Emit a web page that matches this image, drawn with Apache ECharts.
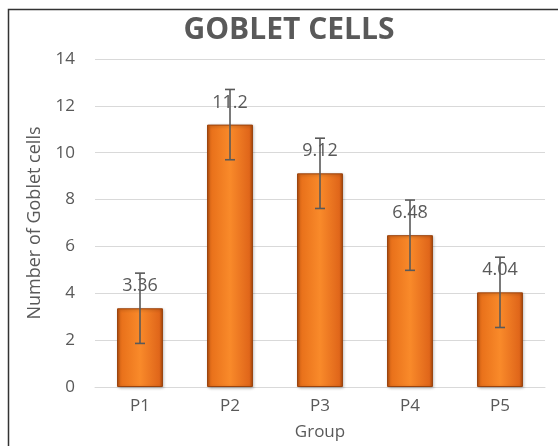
<!DOCTYPE html>
<html><head><meta charset="utf-8">
<script src="https://cdn.jsdelivr.net/npm/echarts@6/dist/echarts.min.js"></script>
<style>html,body{margin:0;padding:0;background:#fff}#c{width:558px;height:446px}</style>
</head><body><div id="c"></div>
<script>
const categories = ['P1','P2','P3','P4','P5'];
const values = [3.36, 11.2, 9.12, 6.48, 4.04];
const errors = [1.5, 1.5, 1.5, 1.5, 1.5];
const yTicks = [0, 2, 4, 6, 8, 10, 12, 14];

const chart = echarts.init(document.getElementById('c'));
const font = "'Open Sans', 'Liberation Sans', sans-serif";
const gray = '#595959';
const barColor = new echarts.graphic.LinearGradient(0, 0, 1, 0, [
  {offset: 0, color: '#b9500f'},
  {offset: 0.08, color: '#e8701a'},
  {offset: 0.5, color: '#f98a2a'},
  {offset: 0.92, color: '#e0661a'},
  {offset: 1, color: '#a8480c'}
]);
chart.setOption({
  animation: false,
  title: {text: 'GOBLET CELLS', left: 284, top: 10, textAlign: 'center',
    textStyle: {fontFamily: font, fontWeight: 'bold', fontSize: 30, color: gray}},
  graphic: [{type: 'rect', shape: {x: 8.5, y: 9.5, width: 600, height: 500},
    style: {fill: 'none', stroke: '#333', lineWidth: 1.5}, silent: true}],
  grid: {left: 95, right: 13, top: 59, bottom: 59, containLabel: false},
  xAxis: {type: 'category', data: categories, name: 'Group', nameLocation: 'middle', nameGap: 37,
    nameTextStyle: {fontFamily: font, fontSize: 17, color: gray},
    axisLine: {show: true, lineStyle: {color: '#d9d9d9'}}, axisTick: {show: false},
    axisLabel: {fontFamily: font, fontSize: 17, color: gray, margin: 11}},
  yAxis: {type: 'value', min: yTicks[0], max: yTicks[yTicks.length-1], interval: 2,
    name: 'Number of Goblet cells', nameLocation: 'middle', nameGap: 51, nameRotate: 90,
    nameTextStyle: {fontFamily: font, fontSize: 18, color: gray},
    axisLine: {show: false}, axisTick: {show: false},
    axisLabel: {fontFamily: font, fontSize: 17, color: gray, margin: 20},
    splitLine: {lineStyle: {color: '#d9d9d9', width: 1}}},
  series: [{
    type: 'bar', data: values, barWidth: '51%',
    itemStyle: {color: barColor, borderColor: '#9a420b', borderWidth: 1,
      shadowColor: 'rgba(0,0,0,0.3)', shadowBlur: 3, shadowOffsetX: 1, shadowOffsetY: 1},
    label: {show: true, position: 'top', distance: 13, fontFamily: font, fontSize: 18, color: gray,
      formatter: p => String(p.value)}
  }, {
    type: 'custom', z: 10,
    data: values.map((v, i) => [i, v - errors[i], v + errors[i]]),
    renderItem: function (params, api) {
      const lo = api.coord([api.value(0), api.value(1)]);
      const hi = api.coord([api.value(0), api.value(2)]);
      const w = 5;
      const st = {stroke: gray, lineWidth: 1.6};
      return {type: 'group', children: [
        {type: 'line', shape: {x1: hi[0], y1: hi[1], x2: lo[0], y2: lo[1]}, style: st},
        {type: 'line', shape: {x1: hi[0]-w, y1: hi[1], x2: hi[0]+w, y2: hi[1]}, style: st},
        {type: 'line', shape: {x1: lo[0]-w, y1: lo[1], x2: lo[0]+w, y2: lo[1]}, style: st}
      ]};
    }
  }]
});
</script></body></html>
